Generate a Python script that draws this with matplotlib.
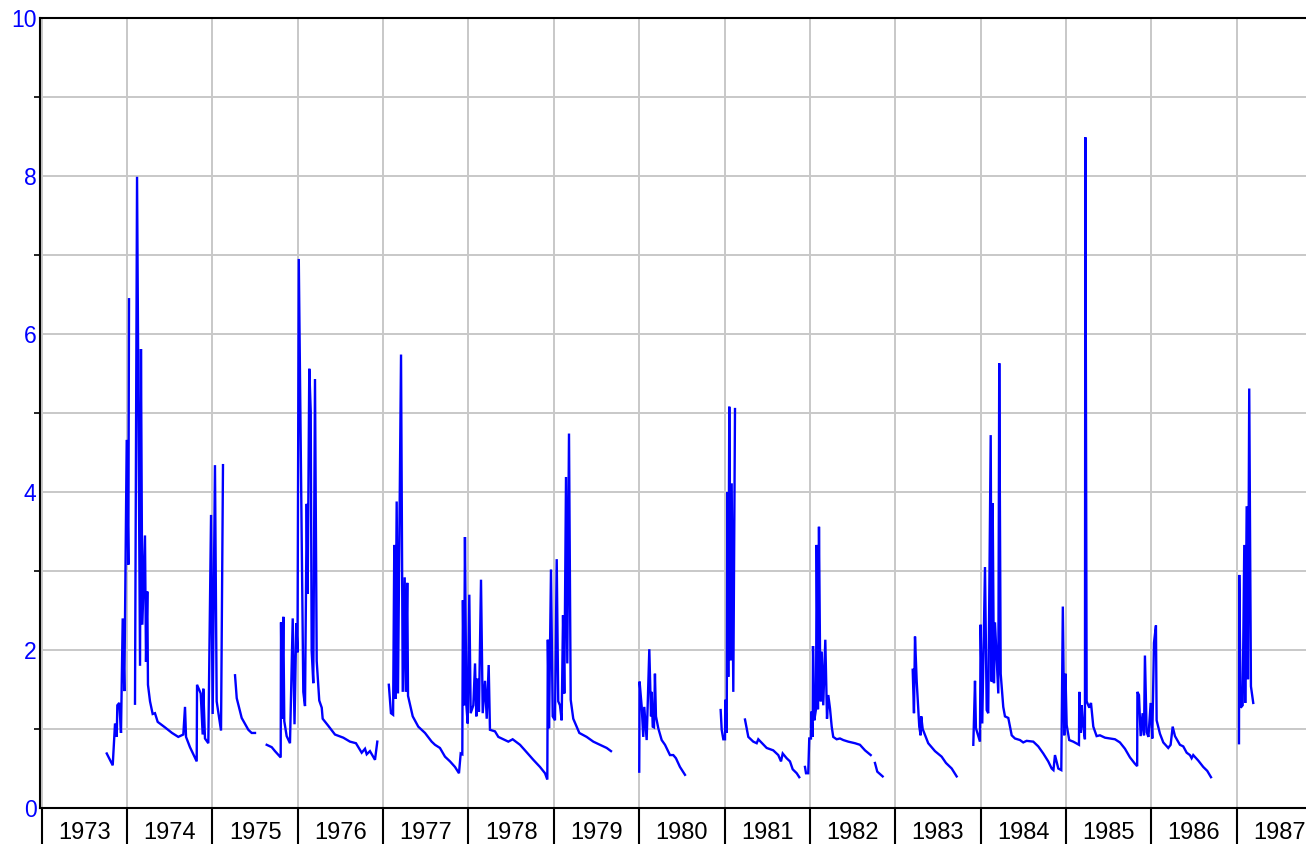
import numpy as np
import matplotlib.pyplot as plt
from matplotlib.ticker import MultipleLocator, FixedLocator, NullFormatter

plt.rcParams['font.family'] = ['Liberation Sans', 'DejaVu Sans']

# daily flow record, one pair of arrays per unbroken stretch (decimal year, flow)
t_73a = [1973.762, 1973.832, 1973.859, 1973.879, 1973.886, 1973.909, 1973.929,
         1973.949, 1973.968, 1973.996, 1974.015, 1974.023]
q_73a = [0.69, 0.54, 1.07, 0.90, 1.30, 1.33, 0.95, 2.40, 1.48, 4.66, 3.08, 6.44]

t_74 = [1974.093, 1974.117, 1974.152, 1974.163, 1974.179, 1974.210, 1974.222,
        1974.237, 1974.245, 1974.269, 1974.300, 1974.327, 1974.359, 1974.445,
        1974.527, 1974.600, 1974.659, 1974.679, 1974.691, 1974.737, 1974.816,
        1974.820, 1974.863, 1974.886, 1974.893, 1974.913, 1974.952, 1974.984,
        1975.003, 1975.030, 1975.050, 1975.101, 1975.124]
q_74 = [1.32, 7.99, 1.80, 5.81, 2.32, 3.45, 1.85, 2.74, 1.56, 1.35, 1.19, 1.20,
        1.09, 1.02, 0.95, 0.90, 0.93, 1.28, 0.90, 0.77, 0.59, 1.56, 1.45, 0.93,
        1.51, 0.88, 0.82, 3.71, 1.19, 4.34, 1.35, 0.98, 4.34]

t_75 = [1975.265, 1975.285, 1975.343, 1975.421, 1975.460, 1975.499]
q_75 = [1.68, 1.39, 1.14, 0.99, 0.95, 0.95]

t_76 = [1975.636, 1975.695, 1975.733, 1975.800, 1975.804, 1975.815, 1975.831,
        1975.842, 1975.870, 1975.909, 1975.941, 1975.962, 1975.983, 1975.997,
        1976.012, 1976.065, 1976.085, 1976.105, 1976.116, 1976.135, 1976.152,
        1976.163, 1976.182, 1976.202, 1976.222, 1976.252, 1976.281, 1976.292,
        1976.358, 1976.436, 1976.534, 1976.612, 1976.682, 1976.749, 1976.788,
        1976.808, 1976.846, 1976.905, 1976.932]
q_76 = [0.80, 0.77, 0.72, 0.64, 2.35, 1.13, 2.42, 1.10, 0.91, 0.82, 2.40, 1.06,
        2.34, 1.97, 6.95, 1.47, 1.29, 3.85, 2.71, 5.56, 5.02, 1.99, 1.58, 5.43,
        1.86, 1.36, 1.27, 1.13, 1.04, 0.93, 0.89, 0.84, 0.82, 0.70, 0.75, 0.68,
        0.72, 0.61, 0.84]

t_77 = [1977.067, 1977.092, 1977.117, 1977.131, 1977.143, 1977.159, 1977.174,
        1977.210, 1977.230, 1977.253, 1977.265, 1977.283, 1977.292, 1977.347,
        1977.412, 1977.491, 1977.569, 1977.608, 1977.666, 1977.725, 1977.784,
        1977.842, 1977.889, 1977.909, 1977.928, 1977.935, 1977.948, 1977.959,
        1977.975, 1977.991, 1978.010, 1978.026, 1978.057, 1978.077, 1978.092,
        1978.104, 1978.123, 1978.147, 1978.167, 1978.194, 1978.214, 1978.237,
        1978.252, 1978.311, 1978.350, 1978.467, 1978.518, 1978.604, 1978.662,
        1978.760, 1978.838, 1978.897, 1978.924, 1978.930, 1978.944, 1978.967,
        1978.987, 1979.014, 1979.034, 1979.052, 1979.072, 1979.092, 1979.108,
        1979.123, 1979.143, 1979.158, 1979.178, 1979.198, 1979.228, 1979.299,
        1979.385, 1979.463, 1979.541, 1979.620, 1979.670]
q_77 = [1.56, 1.20, 1.18, 3.33, 1.38, 3.88, 1.45, 5.74, 1.47, 2.92, 1.47, 2.85,
        1.42, 1.16, 1.03, 0.95, 0.84, 0.80, 0.76, 0.65, 0.59, 0.52, 0.44, 0.69,
        0.68, 2.63, 1.30, 3.43, 1.31, 1.07, 2.70, 1.20, 1.30, 1.83, 1.16, 1.64,
        1.22, 2.89, 1.20, 1.61, 1.13, 1.81, 0.99, 0.97, 0.90, 0.84, 0.87, 0.80,
        0.73, 0.61, 0.52, 0.44, 0.36, 2.13, 1.01, 3.02, 1.16, 1.11, 3.15, 1.35,
        1.30, 1.11, 2.44, 1.45, 4.19, 1.83, 4.74, 1.37, 1.13, 0.95, 0.90, 0.84,
        0.80, 0.76, 0.72]

t_80 = [1980.001, 1980.005, 1980.030, 1980.048, 1980.060, 1980.088, 1980.119,
        1980.139, 1980.147, 1980.159, 1980.174, 1980.185, 1980.197, 1980.224,
        1980.264, 1980.303, 1980.361, 1980.400, 1980.431, 1980.478, 1980.537]
q_80 = [0.46, 1.60, 1.28, 0.90, 1.28, 0.86, 2.01, 1.16, 1.47, 1.03, 1.02, 1.70,
        1.16, 1.01, 0.86, 0.80, 0.67, 0.67, 0.63, 0.52, 0.42]

t_81a = [1980.955, 1980.967, 1980.986, 1981.006, 1981.009, 1981.026, 1981.033,
         1981.044, 1981.056, 1981.072, 1981.084, 1981.103, 1981.123]
q_81a = [1.24, 0.99, 0.87, 0.87, 1.37, 0.95, 4.00, 1.66, 5.08, 1.87, 4.11, 1.47, 5.05]

t_81b = [1981.240, 1981.279, 1981.337, 1981.377, 1981.396, 1981.494, 1981.571,
         1981.630, 1981.662, 1981.682, 1981.728, 1981.767, 1981.799, 1981.846,
         1981.876]
q_81b = [1.12, 0.90, 0.84, 0.82, 0.87, 0.76, 0.73, 0.67, 0.59, 0.69, 0.63, 0.59,
         0.49, 0.44, 0.39]

t_82a = [1981.943, 1981.955, 1981.981, 1981.993, 1982.013, 1982.017, 1982.033,
         1982.037, 1982.052, 1982.072, 1982.080, 1982.095, 1982.107, 1982.119,
         1982.127, 1982.139, 1982.157, 1982.181, 1982.201, 1982.216, 1982.236,
         1982.256, 1982.274, 1982.314, 1982.353, 1982.392, 1982.450, 1982.529,
         1982.587, 1982.646, 1982.713]
q_82a = [0.52, 0.44, 0.44, 0.88, 0.88, 1.22, 0.90, 2.05, 1.11, 1.25, 3.33, 1.25,
         3.56, 2.00, 1.35, 1.98, 1.30, 2.13, 1.13, 1.43, 1.26, 1.03, 0.90, 0.87,
         0.88, 0.86, 0.84, 0.82, 0.80, 0.73, 0.67]

t_82b = [1982.763, 1982.790, 1982.853]
q_82b = [0.57, 0.46, 0.40]

t_83 = [1983.205, 1983.220, 1983.232, 1983.252, 1983.282, 1983.298, 1983.305,
        1983.322, 1983.387, 1983.466, 1983.544, 1983.595, 1983.662, 1983.720]
q_83 = [1.75, 1.20, 2.17, 1.60, 1.03, 0.92, 1.16, 1.00, 0.82, 0.72, 0.65, 0.57,
        0.50, 0.40]

t_84 = [1983.915, 1983.935, 1983.946, 1983.993, 1984.001, 1984.020, 1984.052,
        1984.072, 1984.090, 1984.119, 1984.130, 1984.142, 1984.157, 1984.169,
        1984.208, 1984.219, 1984.236, 1984.266, 1984.286, 1984.325, 1984.365,
        1984.403, 1984.462, 1984.500, 1984.540, 1984.618, 1984.676, 1984.735,
        1984.793, 1984.833, 1984.854, 1984.872, 1984.911, 1984.946, 1984.964,
        1984.981, 1984.995, 1985.009, 1985.039, 1985.086, 1985.153, 1985.157,
        1985.173, 1985.185, 1985.203, 1985.223, 1985.228, 1985.243, 1985.274,
        1985.294, 1985.321, 1985.360, 1985.399, 1985.458, 1985.516, 1985.575,
        1985.633, 1985.692, 1985.751, 1985.809, 1985.835, 1985.838, 1985.856,
        1985.876, 1985.899, 1985.915, 1985.926, 1985.946, 1985.967, 1985.993,
        1986.012, 1986.032, 1986.055, 1986.063, 1986.102, 1986.141, 1986.199,
        1986.227, 1986.251, 1986.278, 1986.336, 1986.375, 1986.415, 1986.453,
        1986.473, 1986.492, 1986.551, 1986.609, 1986.656, 1986.700]
q_84 = [0.80, 1.61, 1.01, 0.84, 2.32, 1.07, 3.05, 1.24, 1.20, 4.72, 1.60, 3.86,
        1.58, 2.35, 1.45, 5.63, 1.70, 1.28, 1.16, 1.14, 0.92, 0.88, 0.86, 0.83,
        0.85, 0.84, 0.78, 0.69, 0.59, 0.50, 0.48, 0.67, 0.50, 0.48, 2.55, 0.92,
        1.70, 1.05, 0.86, 0.84, 0.80, 1.47, 0.95, 1.30, 1.03, 0.87, 8.49, 1.35,
        1.27, 1.33, 1.03, 0.91, 0.92, 0.89, 0.88, 0.87, 0.83, 0.75, 0.64, 0.56,
        0.53, 1.47, 1.43, 0.91, 1.20, 0.92, 1.93, 0.96, 0.90, 1.33, 0.88, 2.09,
        2.31, 1.11, 0.94, 0.83, 0.76, 0.80, 1.03, 0.91, 0.80, 0.78, 0.70, 0.67,
        0.63, 0.67, 0.60, 0.52, 0.47, 0.39]

t_87 = [1987.028, 1987.031, 1987.048, 1987.071, 1987.090, 1987.101, 1987.118,
        1987.133, 1987.148, 1987.168, 1987.195]
q_87 = [0.82, 2.95, 1.27, 1.30, 3.33, 1.33, 3.82, 1.63, 5.31, 1.54, 1.33]

stretches = [(t_73a, q_73a), (t_74, q_74), (t_75, q_75), (t_76, q_76),
             (t_77, q_77), (t_80, q_80), (t_81a, q_81a), (t_81b, q_81b),
             (t_82a, q_82a), (t_82b, q_82b), (t_83, q_83), (t_84, q_84),
             (t_87, q_87)]

years = np.arange(1973, 1988)

fig = plt.figure(figsize=(13.06, 8.44), dpi=100)
ax = fig.add_axes([40 / 1306, 36 / 844, 1270 / 1306, 790 / 844])

for t, q in stretches:
    ax.plot(t, q, color='#0000ff', lw=1.7, solid_joinstyle='miter')

ax.set_xlim(1972.98, 1987.86)
ax.set_ylim(0, 10)

# year boundaries carry the long ticks, labels sit mid-year
ax.xaxis.set_major_locator(FixedLocator(years))
ax.xaxis.set_major_formatter(NullFormatter())
ax.xaxis.set_minor_locator(FixedLocator(years + 0.5))
ax.set_xticklabels([str(y) for y in years], minor=True)
ax.tick_params(axis='x', which='major', direction='out', length=27, width=1.5,
               color='black')
ax.tick_params(axis='x', which='minor', length=0, pad=10, labelsize=17,
               labelcolor='black')

ax.yaxis.set_major_locator(MultipleLocator(2))
ax.yaxis.set_minor_locator(MultipleLocator(1))
ax.tick_params(axis='y', which='major', length=0, pad=2.5, labelsize=16.5,
               labelcolor='#0000ff')
ax.tick_params(axis='y', which='minor', direction='out', length=4, width=1.2,
               color='black')

ax.grid(True, which='major', axis='x', color='#c8c8c8', lw=1.4)
ax.grid(True, which='both', axis='y', color='#c8c8c8', lw=1.4)
ax.set_axisbelow(True)

for side in ['left', 'top', 'bottom']:
    ax.spines[side].set_linewidth(1.5)
    ax.spines[side].set_color('black')
ax.spines['right'].set_visible(False)

fig.savefig('out.png', dpi=100)
